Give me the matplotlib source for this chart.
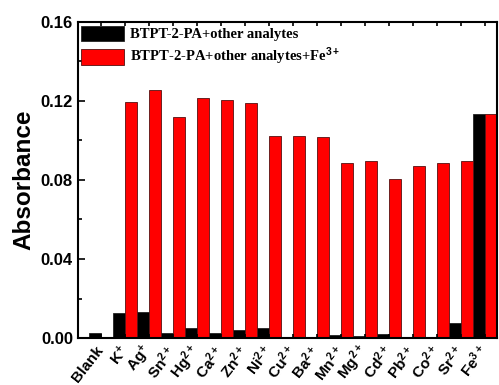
import numpy as np
import matplotlib as mp
mp.use('Agg')
import matplotlib.pyplot as plt
from matplotlib.ticker import MultipleLocator

plt.rcParams['font.family'] = 'Liberation Sans'
plt.rcParams['font.weight'] = 'bold'
plt.rcParams['mathtext.fontset'] = 'custom'
plt.rcParams['mathtext.rm'] = 'Liberation Sans:bold'
plt.rcParams['mathtext.bf'] = 'Liberation Sans:bold'
plt.rcParams['mathtext.default'] = 'bf'

ions = ['Blank', 'K$^{+}$', 'Ag$^{+}$', 'Sn$^{2+}$', 'Hg$^{2+}$', 'Ca$^{2+}$',
        'Zn$^{2+}$', 'Ni$^{2+}$', 'Cu$^{2+}$', 'Ba$^{2+}$', 'Mn$^{2+}$',
        'Mg$^{2+}$', 'Cd$^{2+}$', 'Pb$^{2+}$', 'Co$^{2+}$', 'Sr$^{2+}$', 'Fe$^{3+}$']
probe = [0.0027, 0.0129, 0.0132, 0.0027, 0.0050, 0.0023, 0.0042, 0.0052,
         0.0, 0.0, 0.0017, 0.0012, 0.0018, 0.0, 0.0, 0.0075, 0.1134]
probe_fe = [0.0, 0.1193, 0.1255, 0.1118, 0.1214, 0.1203, 0.1190, 0.1022,
            0.1025, 0.1017, 0.0886, 0.0895, 0.0806, 0.0870, 0.0887, 0.0898, 0.1134]

fig = plt.figure(figsize=(4.99, 3.85), dpi=100)
ax = fig.add_axes([0.156, 0.122, 0.84, 0.821])

x = np.arange(len(ions))
w = 0.5
ax.bar(x - w/2, probe, w, color='black', edgecolor='#222222', lw=0.6,
       label='BTPT-2-PA+other analytes')
ax.bar(x + w/2, probe_fe, w, color='#ff0000', edgecolor='#551111', lw=0.6,
       label='BTPT-2-PA+other analytes+Fe$^{3+}$')

ax.set_xlim(-0.96, 16.5)
ax.set_ylim(0, 0.16)
ax.yaxis.set_minor_locator(MultipleLocator(0.02))
ax.set_yticks([0, 0.04, 0.08, 0.12, 0.16])
ax.set_yticklabels(['0.00', '0.04', '0.08', '0.12', '0.16'], fontsize=12, fontweight='bold')
ax.set_xticks(x)
ax.set_xticklabels(ions, rotation=52, ha='right', va='center', rotation_mode='anchor',
                   fontsize=11, fontweight='bold')
ax.tick_params(axis='both', which='both', direction='in', width=1.2)
ax.tick_params(axis='y', which='major', length=5)
ax.tick_params(axis='y', which='minor', length=3)
ax.tick_params(axis='x', which='major', length=3, pad=7)
ax.tick_params(top=True, which='both')
for s in ax.spines.values():
    s.set_linewidth(1.5)

ax.set_ylabel('Absorbance', fontsize=17.5, fontweight='bold', labelpad=4)

leg = ax.legend(loc='upper left', frameon=False, handlelength=2.9, handleheight=1.3,
                borderaxespad=0.15, borderpad=0.1, labelspacing=0.3, handletextpad=0.45,
                prop={'family': 'Liberation Serif', 'weight': 'bold', 'size': 10.5})

fig.savefig('out.png', dpi=100)
